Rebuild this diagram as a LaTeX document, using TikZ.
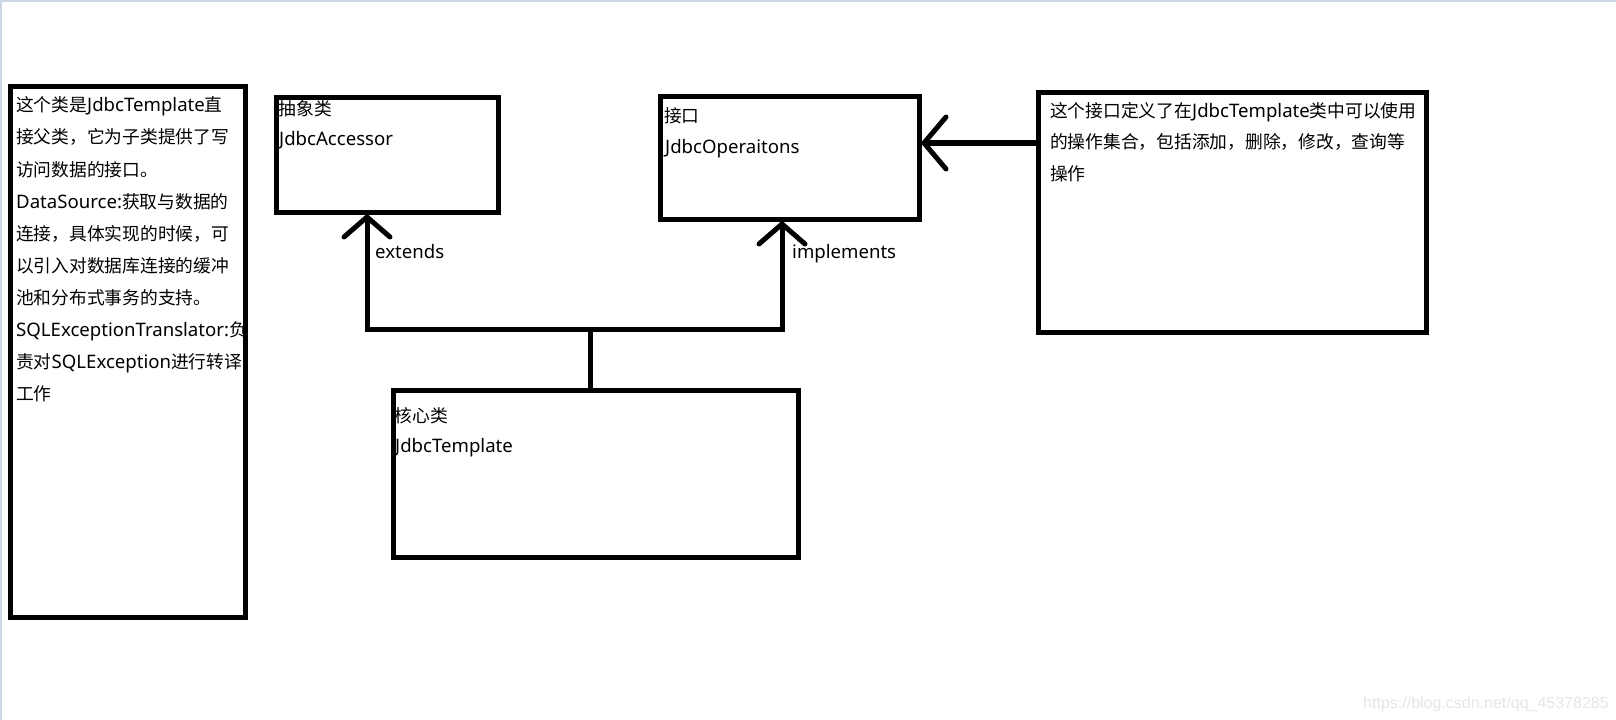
\documentclass[tikz,border=0pt]{standalone}
\usepackage{fontspec}
\setmainfont{Noto Sans CJK SC}
\newfontfamily\latf{Noto Sans}
\newfontfamily\wmf{Liberation Sans}
\usetikzlibrary{arrows.meta}
\newcommand\lat[1]{{\latf\fontsize{18.6bp}{20bp}\selectfont #1}}
\definecolor{framec}{HTML}{CBD5E3}
\definecolor{wmc}{HTML}{E6E6E6}
\tikzset{
  box/.style={draw=black, line width=5bp, rectangle, inner sep=0pt, anchor=north west},
  txt/.style={anchor=base west, inner sep=0pt, font=\fontsize{17.75bp}{20bp}\selectfont},
  conn/.style={line width=5bp},
  opentip/.style={-{Straight Barb[length=20bp,width=46bp,line width=5bp,round]}},
  bigtip/.style={-{Straight Barb[length=22bp,width=52bp,line width=5bp,round]}},
}
\begin{document}
\begin{tikzpicture}[x=1bp,y=-1bp]
\useasboundingbox (0,0) rectangle (1616,720);
\fill[white] (0,0) rectangle (1616,720);
\fill[framec] (0,0) rectangle (1616,2);
\fill[framec] (0,0) rectangle (2,720);

% texts
\foreach \t [count=\i from 0] in {
  这个类是\lat{JdbcTemplate}直,
  接父类，它为子类提供了写,
  访问数据的接口。,
  \lat{DataSource:}获取与数据的,
  连接，具体实现的时候，可,
  以引入对数据库连接的缓冲,
  池和分布式事务的支持。,
  \lat{SQLExceptionTranslator:}负,
  责对\lat{SQLException}进行转译,
  工作}
  \node[txt] (l\i) at (16,112+32*\i) {\t};

\foreach \t [count=\i from 0] in {
  这个接口定义了在\lat{JdbcTemplate}类中可以使用,
  的操作集合，包括添加，删除，修改，查询等,
  操作}
  \node[txt] (r\i) at (1050,117.5+31.5*\i) {\t};

\node[txt] (acct1) at (278.5,116) {抽象类};
\node[txt] (acct2) at (279,146) {\lat{JdbcAccessor}};
\node[txt] (intt1) at (664,123) {接口};
\node[txt] (intt2) at (665,154) {\lat{JdbcOperaitons}};
\node[txt] (coret1) at (394.5,422) {核心类};
\node[txt] (coret2) at (395,452) {\lat{JdbcTemplate}};
\node[txt] (ext) at (375,258) {\lat{extends}};
\node[txt] (impl) at (792,258) {\lat{implements}};

% boxes
\node[box, minimum width=235bp, minimum height=530bp] (leftbox) at (7.5,84.5) {};
\node[box, minimum width=222bp, minimum height=114bp] (acc) at (273.5,95.5) {};
\node[box, minimum width=259bp, minimum height=122bp] (intf) at (657.5,94.5) {};
\node[box, minimum width=388bp, minimum height=239bp] (desc) at (1035.5,90.5) {};
\node[box, minimum width=405bp, minimum height=167bp] (core) at (390.5,387.5) {};

% connectors
\coordinate (j) at (590,329.5);
\coordinate (ja) at (367,329.5);
\coordinate (jb) at (782,329.5);
\coordinate (ya) at (0,143);
\draw[conn] (core.north -| j) -- (j);
\draw[conn, opentip] (j) -- (ja) -- (ja |- acc.south);
\draw[conn, opentip] (j) -- (jb) -- (jb |- intf.south);
\draw[conn, bigtip] (desc.west |- ya) -- (intf.east |- ya);

% watermark
\node[anchor=base west, inner sep=0pt, text=wmc, font=\wmf\fontsize{16bp}{18bp}\selectfont] (wm) at (1363,708) {https://blog.csdn.net/qq\_45378285};
\end{tikzpicture}
\end{document}
